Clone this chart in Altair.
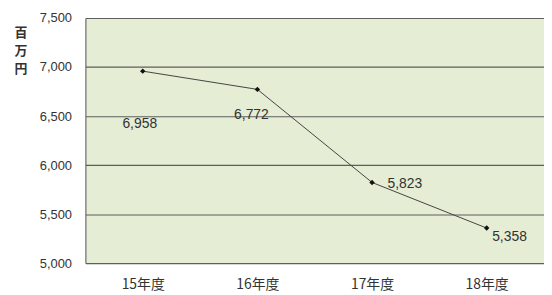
import altair as alt
import pandas as pd

years = ["15年度", "16年度", "17年度", "18年度"]
values = [6958, 6772, 5823, 5358]
labels = ["6,958", "6,772", "5,823", "5,358"]
label_dx = [-3, -6, 33, 23]
label_dy = [53, 26, 2, 9]
ticks = [5000, 5500, 6000, 6500, 7000, 7500]
title_chars = ["百", "万", "円"]

df = pd.DataFrame({"year": years, "value": values, "label": labels})

xscale = alt.Scale(type="point", padding=0.5)
yscale = alt.Scale(domain=[5000, 7500], nice=False, zero=False)

x = alt.X("year:N", sort=years, title=None, scale=xscale,
          axis=alt.Axis(labelAngle=0, labelFont="Noto Sans CJK JP", labelFontSize=14,
                        labelColor="#333333", domain=False, ticks=False, labelPadding=15))
y = alt.Y("value:Q", title=None, scale=yscale,
          axis=alt.Axis(values=ticks, labelExpr="format(datum.value, ',')",
                        labelFont="Liberation Sans", labelFontSize=13, labelColor="#333333",
                        grid=True, gridColor="#5e5e5e", gridWidth=1.2, domain=True,
                        domainColor="#555555", ticks=False, labelPadding=14))

base = alt.Chart(df)
line = base.mark_line(color="#444444", strokeWidth=1).encode(x=x, y=y)
pts = base.mark_point(filled=True, shape="diamond", color="#111111", size=30, opacity=1).encode(x=x, y=y)

texts = []
for i in range(len(years)):
    texts.append(
        alt.Chart(df.iloc[[i]]).mark_text(font="Liberation Sans", fontSize=14, color="#333333",
                                         dx=label_dx[i], dy=label_dy[i])
        .encode(x=x, y=y, text="label:N")
    )

titles = []
for j, ch in enumerate(title_chars):
    titles.append(
        alt.Chart(pd.DataFrame({"t": [ch]})).mark_text(
            font="Noto Sans CJK JP", fontSize=13, fontWeight="bold", color="#333333",
            align="center", baseline="middle"
        ).encode(x=alt.value(-65), y=alt.value(15 + 18 * j), text="t:N")
    )

chart = alt.layer(line, pts, *texts, *titles).properties(
    width=462, height=247,
    autosize=alt.AutoSizeParams(type="none"),
    padding={"left": 78, "top": 9, "right": 0, "bottom": 30},
    background="white",
).configure_view(fill="#e5edd5", stroke=None)

chart.save("out.html", embed_options={"renderer": "svg", "actions": False})
